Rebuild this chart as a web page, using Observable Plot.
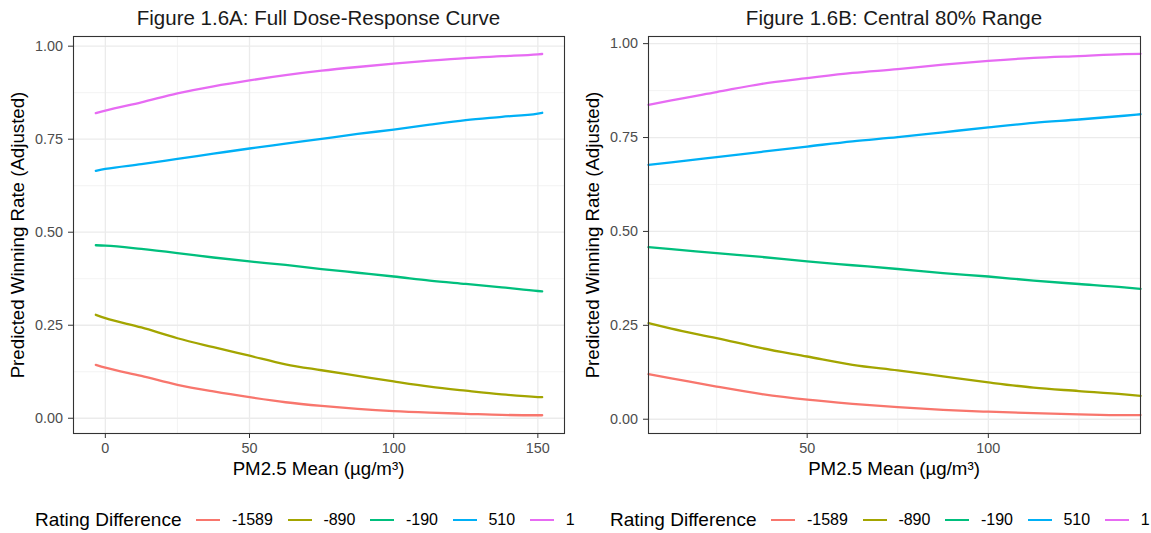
<!DOCTYPE html>
<html><head><meta charset="utf-8">
<script src="https://cdn.jsdelivr.net/npm/d3@7"></script>
<script src="https://cdn.jsdelivr.net/npm/@observablehq/plot@0.6"></script>
<style>
body{margin:0;background:#fff;}
#root{position:relative;width:1151px;height:533px;font-family:"Liberation Sans",Arial,sans-serif;overflow:hidden;background:#fff;}
.panel{position:absolute;top:0;}
.title{position:absolute;top:8px;font-size:20.5px;line-height:1;color:#1a1a1a;white-space:nowrap;transform:translateX(-50%);}
.xlab{position:absolute;top:460px;font-size:18.7px;line-height:1;color:#000;white-space:nowrap;transform:translateX(-50%);}
.ylab{position:absolute;font-size:18.7px;line-height:1;color:#000;white-space:nowrap;transform:translate(-50%,-50%) rotate(-90deg);}
.legend{position:absolute;top:508px;height:24px;display:flex;align-items:center;white-space:nowrap;}
.legend .lt{font-size:19px;color:#000;margin-right:15px;}
.legend .key{width:24px;height:2.4px;margin-right:11.5px;}
.legend .lbl{font-size:16px;color:#000;margin-right:15px;}
</style></head>
<body><div id="root"></div>
<script>
// ---- Data ----
const seriesNames = ["-1589", "-890", "-190", "510", "1"];
const seriesColors = ["#F8766D", "#A3A500", "#00BF7D", "#00B0F6", "#E76BF3"];

// Panel A: full dose-response curve
const xA = [-3.3, 0, 12.5, 25, 37.5, 50, 62.5, 75, 87.5, 100, 112.5, 125, 137.5, 150, 151.5];
const yA_m1589 = [0.1435, 0.136, 0.114, 0.090, 0.072, 0.0565, 0.043, 0.033, 0.025, 0.019, 0.015, 0.012, 0.009, 0.008, 0.008];
const yA_m890  = [0.278, 0.269, 0.244, 0.215, 0.191, 0.168, 0.145, 0.129, 0.114, 0.099, 0.085, 0.074, 0.064, 0.057, 0.0565];
const yA_m190  = [0.465, 0.464, 0.455, 0.444, 0.432, 0.4215, 0.412, 0.401, 0.391, 0.381, 0.370, 0.361, 0.352, 0.342, 0.341];
const yA_510   = [0.665, 0.670, 0.683, 0.697, 0.711, 0.725, 0.738, 0.751, 0.764, 0.776, 0.789, 0.801, 0.810, 0.819, 0.821];
const yA_1     = [0.820, 0.827, 0.849, 0.873, 0.892, 0.908, 0.922, 0.934, 0.944, 0.953, 0.961, 0.968, 0.973, 0.978, 0.979];

// Panel B: central 80% range
const xB = [6.2, 12.5, 25, 37.5, 50, 62.5, 75, 87.5, 100, 112.5, 125, 137.5, 142.0];
const yB_m1589 = [0.120, 0.109, 0.087, 0.067, 0.052, 0.041, 0.032, 0.025, 0.020, 0.016, 0.013, 0.011, 0.011];
const yB_m890  = [0.256, 0.241, 0.216, 0.189, 0.167, 0.145, 0.130, 0.114, 0.098, 0.084, 0.075, 0.066, 0.062];
const yB_m190  = [0.458, 0.453, 0.442, 0.432, 0.420, 0.410, 0.400, 0.389, 0.380, 0.369, 0.360, 0.351, 0.347];
const yB_510   = [0.677, 0.684, 0.698, 0.712, 0.726, 0.740, 0.751, 0.764, 0.777, 0.789, 0.798, 0.808, 0.812];
const yB_1     = [0.837, 0.849, 0.871, 0.893, 0.908, 0.922, 0.932, 0.944, 0.954, 0.962, 0.967, 0.972, 0.973];

// Ticks
const xTicksA = [0, 50, 100, 150];
const xMinorA = [25, 75, 125];
const xTicksB = [50, 100];
const xMinorB = [25, 75, 125];
const yTicks = [0, 0.25, 0.5, 0.75, 1];
const yMinor = [0.125, 0.375, 0.625, 0.875];

// Texts
const titleA = "Figure 1.6A: Full Dose-Response Curve";
const titleB = "Figure 1.6B: Central 80% Range";
const xLabel = "PM2.5 Mean (µg/m³)";
const yLabel = "Predicted Winning Rate (Adjusted)";
const legendTitle = "Rating Difference";

// ---- Build ----
function rows(xs, lists) {
  const out = [];
  lists.forEach((vals, i) => vals.forEach((v, j) => out.push({x: xs[j], y: v, s: seriesNames[i]})));
  return out;
}
const dataA = rows(xA, [yA_m1589, yA_m890, yA_m190, yA_510, yA_1]);
const dataB = rows(xB, [yB_m1589, yB_m890, yB_m190, yB_510, yB_1]);

function panel(data, xDomain, yDomain, xTicks, xMinor, width, mLeft, mRight) {
  return Plot.plot({
    width, height: 490,
    marginLeft: mLeft, marginRight: mRight, marginTop: 36, marginBottom: 57,
    x: {domain: xDomain},
    y: {domain: yDomain},
    color: {domain: seriesNames, range: seriesColors},
    style: {fontFamily: '"Liberation Sans", Arial, sans-serif', fontSize: "14.4px", color: "#4D4D4D", background: "white", overflow: "visible"},
    marks: [
      Plot.gridX(xMinor, {stroke: "#EEEEEE", strokeOpacity: 1, strokeWidth: 0.7}),
      Plot.gridY(yMinor, {stroke: "#EEEEEE", strokeOpacity: 1, strokeWidth: 0.7}),
      Plot.gridX(xTicks, {stroke: "#EBEBEB", strokeOpacity: 1, strokeWidth: 1.3}),
      Plot.gridY(yTicks, {stroke: "#EBEBEB", strokeOpacity: 1, strokeWidth: 1.3}),
      Plot.line(data, {x: "x", y: "y", z: "s", stroke: "s", strokeWidth: 2.3, curve: "monotone-x"}),
      Plot.frame({stroke: "#333333", strokeWidth: 1.1}),
      Plot.axisX(xTicks, {tickSize: 5, tickPadding: 4, label: null, stroke: "#333333", fill: "#4D4D4D", tickFormat: d => String(d)}),
      Plot.axisY(yTicks, {tickSize: 5, tickPadding: 5.5, label: null, stroke: "#333333", fill: "#4D4D4D", tickFormat: d => d.toFixed(2)})
    ]
  });
}

const root = document.getElementById("root");
function addPanel(svg, left) {
  svg.classList.add("panel");
  svg.style.left = left + "px";
  root.appendChild(svg);
}
addPanel(panel(dataA, [-11.04, 159.24], [-0.041, 1.026], xTicksA, xMinorA, 575, 73, 11), 0);
addPanel(panel(dataB, [6.2, 142.0], [-0.038, 1.019], xTicksB, xMinorB, 576, 73, 11), 575);

function addDiv(cls, text, style) {
  const d = document.createElement("div");
  d.className = cls;
  d.textContent = text;
  Object.assign(d.style, style);
  root.appendChild(d);
  return d;
}
addDiv("title", titleA, {left: "318.5px"});
addDiv("title", titleB, {left: "894px"});
addDiv("xlab", xLabel, {left: "318.5px"});
addDiv("xlab", xLabel, {left: "894px"});
addDiv("ylab", yLabel, {left: "18px", top: "234.5px"});
addDiv("ylab", yLabel, {left: "593px", top: "234.5px"});

function addLegend(left) {
  const lg = document.createElement("div");
  lg.className = "legend";
  lg.style.left = left + "px";
  const t = document.createElement("span");
  t.className = "lt"; t.textContent = legendTitle;
  lg.appendChild(t);
  seriesNames.forEach((n, i) => {
    const k = document.createElement("span");
    k.className = "key"; k.style.background = seriesColors[i];
    lg.appendChild(k);
    const l = document.createElement("span");
    l.className = "lbl"; l.textContent = n;
    lg.appendChild(l);
  });
  root.appendChild(lg);
}
addLegend(35);
addLegend(610);
</script>
</body></html>
